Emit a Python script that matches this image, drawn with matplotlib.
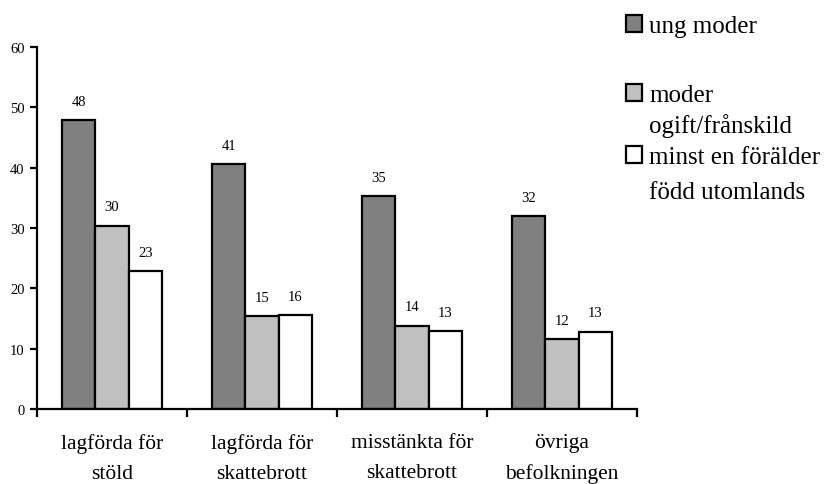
import numpy as np
import matplotlib
matplotlib.use("Agg")
import matplotlib.pyplot as plt
from matplotlib.patches import Rectangle

plt.rcParams['font.family'] = ['Liberation Serif', 'DejaVu Serif']

# andel (%) per grupp
grupper = ['lagförda för\nstöld', 'lagförda för\nskattebrott',
           'misstänkta för\nskattebrott', 'övriga\nbefolkningen']
ung_moder = [47.9, 40.6, 35.3, 32.0]
moder_ogift = [30.4, 15.4, 13.8, 11.6]
utlandsfodd = [22.8, 15.6, 12.9, 12.8]

serier = ['ung moder', 'moder\nogift/frånskild', 'minst en förälder\nfödd utomlands']
farger = ['#808080', '#c0c0c0', '#ffffff']

W, H = 831, 485
fig = plt.figure(figsize=(W / 100, H / 100), dpi=100)
ax = fig.add_axes([37 / W, 1 - 410 / H, 600 / W, 362 / H])

x = np.arange(1, len(grupper) + 1)
bw = 1 / 4.5
for k, (vals, col) in enumerate(zip([ung_moder, moder_ogift, utlandsfodd], farger)):
    pos = x - bw + k * bw
    ax.bar(pos, vals, width=bw, color=col, edgecolor='black', linewidth=1.6, zorder=2)
    for p, v in zip(pos, vals):
        ax.annotate(f'{v:.0f}', (p, v), xytext=(0, 11), textcoords='offset points',
                    ha='center', va='baseline', fontsize=10.5)

ax.set_xlim(0.5, len(grupper) + 0.5)
ax.set_ylim(0, 60)
ax.set_yticks(range(0, 61, 10))
ax.set_xticks(np.arange(0.5, len(grupper) + 1, 1))
ax.set_xticklabels([])
ax.set_xticks(x, minor=True)
ax.set_xticklabels(grupper, minor=True, fontsize=15.5, linespacing=1.8)
ax.tick_params(axis='x', which='major', direction='out', length=6, width=1.6)
ax.tick_params(axis='x', which='minor', length=0, pad=17)
ax.tick_params(axis='y', direction='out', length=5, width=1.6, labelsize=10.5, pad=4)

for s in ['top', 'right']:
    ax.spines[s].set_visible(False)
for s in ['left', 'bottom']:
    ax.spines[s].set_linewidth(1.6)
    ax.spines[s].set_zorder(3)

# förklaring till höger, en rad i taget
ruta_y = [33, 102, 164]
rad_y = [[33], [102, 133], [164, 199]]
for lab, col, yb, rader in zip(serier, farger, ruta_y, rad_y):
    fig.patches.append(Rectangle((626 / W, 1 - yb / H), 16 / W, 17 / H,
                                 transform=fig.transFigure, facecolor=col,
                                 edgecolor='black', linewidth=1.6))
    for txt, ry in zip(lab.split('\n'), rader):
        fig.text(649 / W, 1 - ry / H, txt, fontsize=18, ha='left', va='baseline')

fig.savefig('out.png', dpi=100)
